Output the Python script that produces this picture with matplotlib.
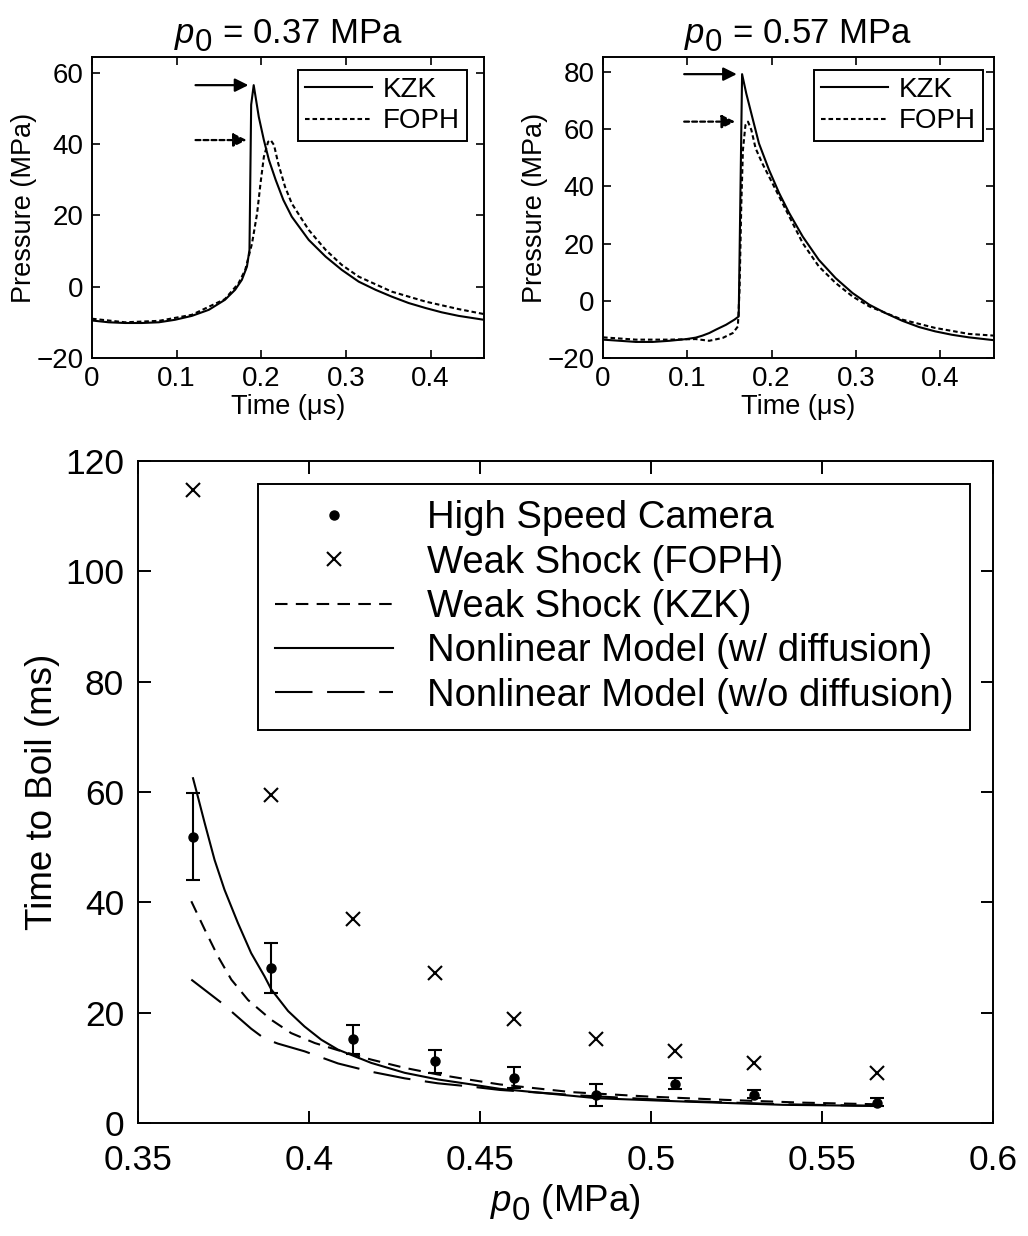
import matplotlib
matplotlib.use('Agg')
import matplotlib.pyplot as plt
from matplotlib.ticker import FuncFormatter
import numpy as np

try:
    # subscripts in the original are almost full size and sit low
    import matplotlib._mathtext as _mt
    _mt.SHRINK_FACTOR = 0.9
    _mt.FontConstantsBase.sub1 = 0.45
except Exception:
    pass

plt.rcParams['font.family'] = ['Liberation Sans', 'DejaVu Sans']
plt.rcParams['mathtext.fontset'] = 'custom'
plt.rcParams['mathtext.rm'] = 'Liberation Sans'
plt.rcParams['mathtext.it'] = 'Liberation Sans:italic'
plt.rcParams['axes.linewidth'] = 1.4

# top left: p0 = 0.37 MPa
t_kzk_a = [0, 0.0197, 0.039, 0.059, 0.079, 0.098, 0.118, 0.138, 0.157, 0.169, 0.177, 0.183,
           0.186, 0.188, 0.191, 0.197, 0.203, 0.209, 0.217, 0.226, 0.236, 0.256, 0.276, 0.295,
           0.315, 0.335, 0.354, 0.374, 0.394, 0.413, 0.433, 0.463]
p_kzk_a = [-9.5, -10.0, -10.2, -10.2, -10.0, -9.3, -8.2, -6.5, -3.7, -0.9, 1.9, 5.6,
           10.3, 51.0, 56.5, 47.6, 41.1, 35.5, 29.9, 24.3, 19.6, 13.1, 8.4, 4.7,
           1.4, -0.9, -2.8, -4.6, -6.0, -7.2, -8.2, -9.3]
t_foph_a = [0, 0.039, 0.079, 0.118, 0.157, 0.173, 0.181, 0.189, 0.195, 0.199, 0.203, 0.208,
            0.211, 0.215, 0.220, 0.228, 0.236, 0.256, 0.276, 0.295, 0.315, 0.354, 0.394,
            0.433, 0.463]
p_foph_a = [-9.0, -10.0, -9.6, -7.9, -3.5, 0.9, 4.7, 12.1, 20.5, 28.9, 36.4, 40.6,
            41.1, 39.7, 34.5, 28.0, 23.3, 15.9, 10.3, 6.1, 2.8, -1.4, -4.2,
            -6.3, -7.7]

# top right: p0 = 0.57 MPa
t_kzk_b = [0, 0.0197, 0.039, 0.059, 0.079, 0.099, 0.110, 0.118, 0.126, 0.134, 0.146, 0.156,
           0.161, 0.165, 0.170, 0.178, 0.185, 0.197, 0.209, 0.221, 0.237, 0.256, 0.276,
           0.296, 0.316, 0.335, 0.355, 0.375, 0.394, 0.414, 0.434, 0.464]
p_kzk_b = [-13.6, -14.0, -14.4, -14.4, -14.0, -13.4, -12.9, -12.2, -11.3, -10.1, -8.4, -6.6,
           -5.5, 79.2, 72.4, 63.1, 55.0, 45.7, 37.6, 30.6, 22.4, 14.3, 7.9,
           2.7, -1.4, -4.3, -7.0, -9.2, -10.7, -11.9, -12.8, -13.8]
t_foph_b = [0, 0.039, 0.079, 0.110, 0.126, 0.142, 0.154, 0.160, 0.162, 0.164, 0.166, 0.169,
            0.172, 0.176, 0.181, 0.189, 0.197, 0.209, 0.225, 0.237, 0.256, 0.276, 0.296,
            0.316, 0.355, 0.394, 0.434, 0.464]
p_foph_b = [-12.8, -13.6, -13.6, -13.4, -14.0, -13.0, -11.3, -9.0, 3.8, 32.9, 52.7, 61.4,
            62.6, 59.7, 53.3, 48.0, 43.4, 36.4, 27.1, 20.1, 12.0, 6.2, 1.5,
            -2.0, -6.6, -9.5, -11.6, -12.2]

# bottom: time to boil vs p0
p0 = [0.366, 0.389, 0.413, 0.437, 0.460, 0.484, 0.507, 0.530, 0.566]
hsc = [51.8, 28.1, 15.2, 11.2, 8.2, 5.1, 7.1, 5.1, 3.6]
hsc_lo = [7.8, 4.5, 2.7, 2.1, 1.9, 2.0, 1.0, 0.6, 0.5]
hsc_hi = [8.0, 4.5, 2.5, 2.1, 1.9, 2.0, 1.0, 0.8, 0.9]
foph = [114.7, 59.5, 36.9, 27.2, 18.8, 15.2, 13.1, 10.8, 9.1]

p_kzk = [0.3656, 0.3695, 0.3734, 0.3773, 0.3822, 0.3890, 0.3948, 0.4017, 0.4085, 0.4182,
         0.4280, 0.4377, 0.4475, 0.4558, 0.4768, 0.4992, 0.5216, 0.5441, 0.566]
t_kzk = [40.2, 35.1, 30.2, 26.0, 22.3, 18.7, 16.3, 14.5, 13.2, 11.5,
         10.0, 8.8, 7.8, 7.0, 5.6, 4.8, 4.2, 3.7, 3.4]

p_diff = [0.3661, 0.3675, 0.3695, 0.3724, 0.3753, 0.3792, 0.3831, 0.3870, 0.3890, 0.3939,
          0.3987, 0.4036, 0.4085, 0.4182, 0.4280, 0.4377, 0.4475, 0.4558, 0.4841, 0.5094,
          0.5386, 0.566]
t_diff = [62.5, 59.2, 54.4, 47.7, 42.3, 36.3, 30.8, 26.6, 24.2, 20.3,
          17.5, 15.1, 13.3, 10.9, 9.1, 7.9, 7.0, 6.2, 4.5, 3.9,
          3.3, 3.1]

p_nodiff = [0.3656, 0.3744, 0.3831, 0.3870, 0.3909, 0.3987, 0.4085, 0.4182, 0.4280, 0.4377,
            0.4475, 0.4558, 0.4792, 0.5094, 0.5386, 0.566]
t_nodiff = [26.0, 21.8, 17.1, 15.3, 14.4, 13.0, 10.8, 9.3, 8.1, 7.2,
            6.6, 6.0, 5.0, 4.0, 3.4, 3.1]

fmt = FuncFormatter(lambda v, pos: '%g' % v)
fig = plt.figure(figsize=(10.28, 12.36), dpi=100)


def pulse_panel(rect, t1, p1, t2, p2, title, ylim, yticks, leg_xy):
    ax = fig.add_axes(rect)
    ax.plot(t1, p1, 'k-', lw=1.5, label='KZK')
    ax.plot(t2, p2, color='k', lw=1.5, ls=(0, (2.2, 1.4)), label='FOPH')
    # arrows pointing at the two peaks
    i = int(np.argmax(p1))
    tip = t1[i] - 0.003
    ax.annotate('', xy=(tip, max(p1)), xytext=(tip - 0.069, max(p1)),
                arrowprops=dict(arrowstyle='-|>', color='k', lw=1.6, mutation_scale=20))
    ax.annotate('', xy=(tip - 0.002, max(p2)), xytext=(tip - 0.069, max(p2)),
                arrowprops=dict(arrowstyle='-|>', color='k', lw=1.6, ls=(0, (2.2, 1.4)),
                                mutation_scale=20))
    ax.set_xlim(t1[0], t1[-1])
    ax.set_ylim(*ylim)
    ax.set_xticks([0, 0.1, 0.2, 0.3, 0.4])
    ax.set_yticks(yticks)
    ax.xaxis.set_major_formatter(fmt)
    ax.tick_params(direction='in', top=True, right=True, length=6, width=1.2,
                   labelsize=20, pad=6)
    ax.set_xlabel('Time (μs)', fontsize=19.5, labelpad=1)
    ax.set_ylabel('Pressure (MPa)', fontsize=19.5, labelpad=0)
    ax.set_title(title, fontsize=25, pad=10)
    leg = ax.legend(loc='upper right', bbox_to_anchor=leg_xy, borderaxespad=0,
                    fontsize=20, handlelength=2.4, handletextpad=0.4, labelspacing=0.2,
                    borderpad=0.25, fancybox=False, edgecolor='k', framealpha=1)
    leg.get_frame().set_linewidth(1.4)
    return ax


pulse_panel([0.0895, 0.7104, 0.3813, 0.2435], t_kzk_a, p_kzk_a, t_foph_a, p_foph_a,
            r'$p_0$ = 0.37 MPa', (-20, 64.4), [-20, 0, 20, 40, 60], (0.957, 0.957))
pulse_panel([0.5866, 0.7104, 0.3804, 0.2435], t_kzk_b, p_kzk_b, t_foph_b, p_foph_b,
            r'$p_0$ = 0.57 MPa', (-20, 85.2), [-20, 0, 20, 40, 60, 80], (0.972, 0.957))

ax = fig.add_axes([0.1342, 0.0914, 0.8317, 0.5356])
ax.errorbar(p0, hsc, yerr=[hsc_lo, hsc_hi], fmt='none', ecolor='k', elinewidth=1.5,
            capsize=5, capthick=1.5)
ax.plot(p0, hsc, 'k.', ms=13, label='High Speed Camera')
ax.plot(p0, foph, 'kx', ms=10.5, mew=1.5, ls='none', label='Weak Shock (FOPH)')
ax.plot(p_kzk, t_kzk, color='k', lw=1.5, ls=(0, (6, 4)), label='Weak Shock (KZK)')
ax.plot(p_diff, t_diff, 'k-', lw=1.5, label='Nonlinear Model (w/ diffusion)')
ax.plot(p_nodiff, t_nodiff, color='k', lw=1.5, ls=(0, (18, 7)),
        label='Nonlinear Model (w/o diffusion)')
ax.set_xlim(0.35, 0.6)
ax.set_ylim(0, 120)
ax.set_xticks([0.35, 0.4, 0.45, 0.5, 0.55, 0.6])
ax.set_yticks([0, 20, 40, 60, 80, 100, 120])
ax.xaxis.set_major_formatter(fmt)
ax.tick_params(direction='in', top=True, right=True, length=9, width=1.4, labelsize=25.5)
ax.tick_params(axis='x', pad=15)
ax.tick_params(axis='y', pad=10)
ax.set_xlabel(r'$p_0$ (MPa)', fontsize=26.5, labelpad=4)
ax.set_ylabel('Time to Boil (ms)', fontsize=26.5, labelpad=4)
leg = ax.legend(loc='upper right', bbox_to_anchor=(0.973, 0.965), borderaxespad=0,
                fontsize=27.5, handlelength=3.1, handletextpad=0.9, labelspacing=0.22,
                borderpad=0.42, fancybox=False, edgecolor='k', framealpha=1, numpoints=1)
leg.get_frame().set_linewidth(1.4)

fig.savefig('out.png', dpi=100)
